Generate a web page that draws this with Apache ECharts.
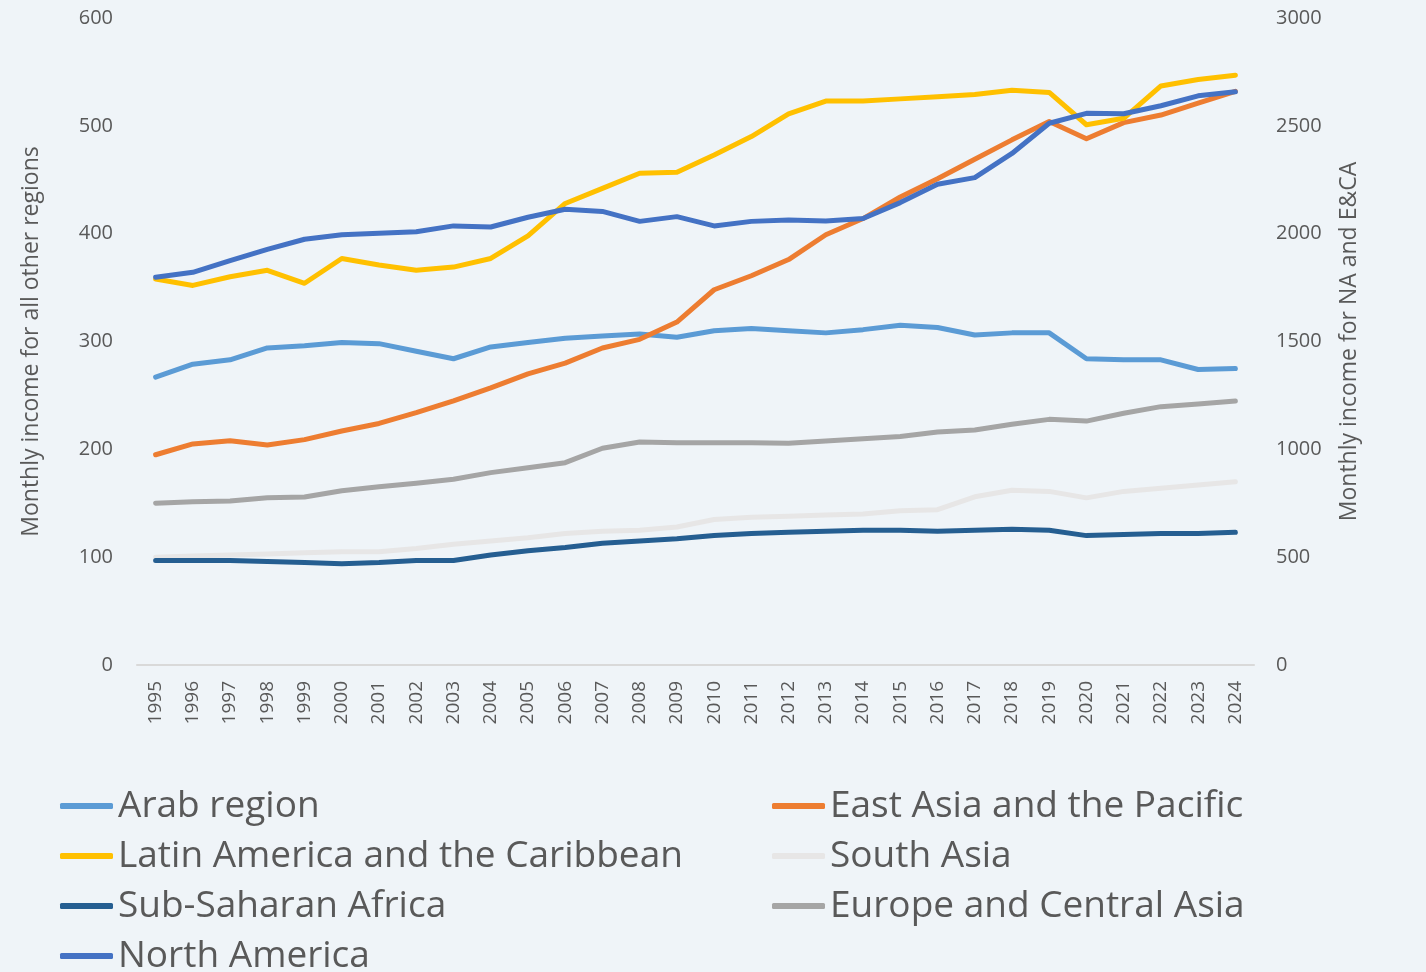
<!DOCTYPE html>
<html lang="en">
<head>
    <meta charset="UTF-8">
    <script src="https://cdn.jsdelivr.net/npm/echarts@6/dist/echarts.min.js"></script>
    <title>Monthly income by region</title>
    <style>
        html, body{
            margin: 0;
            padding: 0;
            background-color: #EFF4F8;
        }
        #chart{
            width: 1426px;
            height: 972px;
        }
    </style>
</head>
<body>
    <div id="chart"></div>
    <script>
        // 年份
        const years = ['1995','1996','1997','1998','1999','2000','2001','2002','2003','2004',
            '2005','2006','2007','2008','2009','2010','2011','2012','2013','2014',
            '2015','2016','2017','2018','2019','2020','2021','2022','2023','2024']

        // 左轴 (all other regions)
        const arab = [267,279,283,294,296,299,298,291,284,295,299,303,305,307,304,310,312,310,308,311,315,313,306,308,308,284,283,283,274,275]
        const eastAsia = [195,205,208,204,209,217,224,234,245,257,270,280,294,302,318,348,361,376,399,414,434,451,469,487,504,488,503,510,521,532]
        const latinAmerica = [358,352,360,366,354,377,371,366,369,377,398,428,442,456,457,473,490,511,523,523,525,527,529,533,531,501,507,537,543,547]
        const southAsia = [100,101,102,103,104,105,105,108,112,115,118,122,124,125,128,135,137,138,139,140,143,144,156,162,161,155,161,164,167,170]
        const subSaharan = [97,97,97,96,95,94,95,97,97,102,106,109,113,115,117,120,122,123,124,125,125,124,125,126,125,120,121,122,122,123]

        // 右轴 (NA and E&CA)
        const europeCA = [750,757,760,776,779,808,827,843,861,892,915,938,1005,1034,1031,1031,1031,1028,1039,1049,1060,1080,1090,1116,1139,1131,1167,1198,1210,1224]
        const northAmerica = [1798,1821,1875,1927,1974,1995,2002,2009,2036,2031,2076,2113,2103,2057,2079,2036,2057,2063,2059,2070,2144,2229,2260,2372,2512,2558,2556,2593,2639,2658]

        const font = 'Open Sans'
        const gray = '#595959'

        function line (name, data, color, axis) {
            return {
                name: name,
                type: 'line',
                data: data,
                yAxisIndex: axis,
                symbol: 'none',
                lineStyle: { width: 5, color: color, cap: 'round', join: 'round' },
                itemStyle: { color: color }
            }
        }

        const legendStyle = {
            orient: 'vertical',
            top: 776,
            height: 220,
            itemWidth: 53,
            itemHeight: 6,
            itemGap: 0,
            icon: 'roundRect',
            textStyle: { fontFamily: font, fontSize: 37, color: gray, lineHeight: 50 }
        }

        const myChart = echarts.init(document.getElementById('chart'))
        myChart.setOption({
            backgroundColor: '#EFF4F8',
            animation: false,
            grid: { left: 137, right: 172, top: 18, bottom: 307, containLabel: false },
            legend: [
                Object.assign({ left: 55, data: ['Arab region', 'Latin America and the Caribbean', 'Sub-Saharan Africa', 'North America'] }, legendStyle),
                Object.assign({ left: 767, data: ['East Asia and the Pacific', 'South Asia', 'Europe and Central Asia'] }, legendStyle)
            ],
            xAxis: {
                type: 'category',
                data: years,
                boundaryGap: true,
                axisLine: { lineStyle: { color: '#D9D9D9', width: 2 } },
                axisTick: { show: false },
                axisLabel: { rotate: 90, margin: 16, fontFamily: font, fontSize: 19, color: gray, interval: 0 }
            },
            yAxis: [
                {
                    type: 'value',
                    min: 0, max: 600, interval: 100,
                    name: 'Monthly income for all other regions',
                    nameLocation: 'middle',
                    nameGap: 94,
                    nameTextStyle: { fontFamily: font, fontSize: 23, color: gray },
                    axisLine: { show: false },
                    axisTick: { show: false },
                    splitLine: { show: false },
                    axisLabel: { margin: 24, fontFamily: font, fontSize: 20, color: gray }
                },
                {
                    type: 'value',
                    min: 0, max: 3000, interval: 500,
                    name: 'Monthly income for NA and E&CA',
                    nameLocation: 'middle',
                    nameGap: 84,
                    nameTextStyle: { fontFamily: font, fontSize: 23, color: gray },
                    axisLine: { show: false },
                    axisTick: { show: false },
                    splitLine: { show: false },
                    axisLabel: { margin: 22, fontFamily: font, fontSize: 20, color: gray, formatter: v => String(v) }
                }
            ],
            series: [
                line('Arab region', arab, '#5B9BD5', 0),
                line('East Asia and the Pacific', eastAsia, '#ED7D31', 0),
                line('Latin America and the Caribbean', latinAmerica, '#FFC000', 0),
                line('South Asia', southAsia, '#E7E6E6', 0),
                line('Sub-Saharan Africa', subSaharan, '#255E91', 0),
                line('Europe and Central Asia', europeCA, '#A5A5A5', 1),
                line('North America', northAmerica, '#4472C4', 1)
            ]
        })
    </script>
</body>
</html>
